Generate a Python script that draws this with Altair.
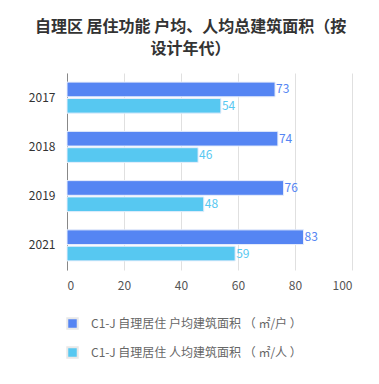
import altair as alt
import pandas as pd

years = ["2017", "2018", "2019", "2021"]
series = ["C1-J 自理居住 户均建筑面积 （ ㎡/户 ）", "C1-J 自理居住 人均建筑面积 （ ㎡/人 ）"]
per_household = [73, 74, 76, 83]
per_person = [54, 46, 48, 59]
colors = ["#5585F3", "#57C8F1"]
x_ticks = [0, 20, 40, 60, 80, 100]

rows = []
for i, y in enumerate(years):
    rows.append({"year": y, "series": series[0], "value": per_household[i], "order": 0})
    rows.append({"year": y, "series": series[1], "value": per_person[i], "order": 1})
df = pd.DataFrame(rows)

FONT = "Noto Sans CJK SC"

y_enc = alt.Y("year:N", sort=years, title=None,
              scale=alt.Scale(paddingInner=0.37, paddingOuter=0.185),
              axis=alt.Axis(labelFontSize=12, labelColor="#333333", labelPadding=12,
                            ticks=False, domainColor="#888888", grid=False,
                            labelFont=FONT))
yoff = alt.YOffset("series:N", sort=series, scale=alt.Scale(paddingInner=0.1))
color_enc = alt.Color("series:N", sort=series,
                      scale=alt.Scale(domain=series, range=colors),
                      legend=alt.Legend(title=None, orient="none", legendX=-1, legendY=244,
                                        direction="vertical", symbolType="square",
                                        symbolSize=110, symbolStrokeColor="#e8e8e8",
                                        symbolStrokeWidth=2, labelFontSize=12,
                                        labelColor="#666666", labelOffset=12,
                                        rowPadding=10, labelFont=FONT,
                                        labelLimit=400))

x_enc = alt.X("value:Q", title=None,
              scale=alt.Scale(domain=[0, 100], nice=False),
              axis=alt.Axis(values=x_ticks, labelFontSize=12, labelColor="#555555",
                            labelPadding=10, ticks=False, domain=False,
                            gridColor="#e0e0e0", labelFont=FONT))

base = alt.Chart(df).encode(y=y_enc, yOffset=yoff)

bars = base.mark_bar(stroke="#e8eefb", strokeWidth=1).encode(x=x_enc, color=color_enc)
labels = base.mark_text(align="left", baseline="middle", dx=1, fontSize=12, font=FONT).encode(
    x=alt.X("value:Q"),
    text=alt.Text("value:Q"),
    color=alt.Color("series:N", sort=series, scale=alt.Scale(domain=series, range=colors), legend=None),
)

chart = (bars + labels).properties(
    width=285, height=197,
    autosize=alt.AutoSizeParams(type="none"),
    padding={"left": 59, "top": 65, "right": 19, "bottom": 106},
    title=alt.TitleParams(
        text=["自理区 居住功能 户均、人均总建筑面积（按", "设计年代）"],
        fontSize=16, fontWeight="bold", color="#333333", font=FONT,
        anchor="middle", dx=-19, offset=16, lineHeight=22,
    ),
).configure_view(stroke=None)

chart.save("out.html", embed_options={"renderer": "svg", "actions": False})
